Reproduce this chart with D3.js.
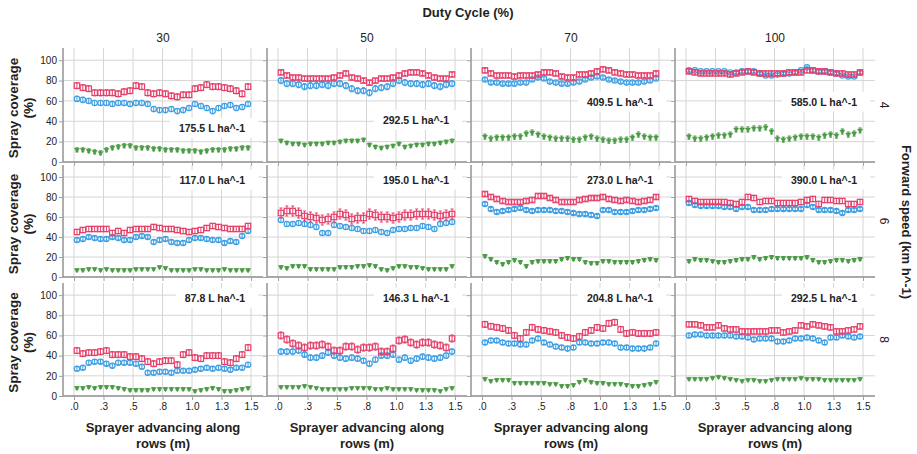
<!DOCTYPE html>
<html>
<head>
<meta charset="utf-8">
<script src="https://cdn.jsdelivr.net/npm/d3@7"></script>
<style>
  body { margin: 0; background: #fff; }
  text { font-family: Arial, "Liberation Sans", sans-serif; fill: #222; }
</style>
</head>
<body>
<script>
// facet categories
var dutyCycles = ["30", "50", "70", "100"];
var speeds = ["4", "6", "8"];
var rates = [
  ["175.5", "292.5", "409.5", "585.0"],
  ["117.0", "195.0", "273.0", "390.0"],
  ["87.8", "146.3", "204.8", "292.5"]
];
var xTickValues = [0, 0.25, 0.5, 0.75, 1.0, 1.25, 1.5];
var xTickLabels = [".0", ".3", ".5", ".8", "1.0", "1.3", "1.5"];
var yTickValues = [0, 20, 40, 60, 80, 100];

// sample positions along the row (m)
var xPos = [0.025, 0.075, 0.125, 0.175, 0.225, 0.275, 0.325, 0.375, 0.425, 0.475,
            0.525, 0.575, 0.625, 0.675, 0.725, 0.775, 0.825, 0.875, 0.925, 0.975,
            1.025, 1.075, 1.125, 1.175, 1.225, 1.275, 1.325, 1.375, 1.425, 1.475];

// speed 4
var s4d30Red   = [75,73,72,68,68,68,68,67,69,70,75,74,68,67,68,67,65,64,66,66,72,73,76,74,74,73,72,70,67,74];
var s4d30Blue  = [62,61,60,58,58,58,57,58,58,57,58,58,57,52,51,51,52,50,51,53,57,55,53,50,53,55,56,53,54,57];
var s4d30Green = [12,12,11,10,9,12,14,15,16,16,14,14,14,13,13,12,12,12,11,11,11,10,11,12,12,12,13,13,14,14];
var s4d50Red   = [88,85,83,83,82,82,82,82,82,83,85,87,83,82,80,78,80,82,82,83,85,87,88,88,87,85,83,82,82,86];
var s4d50Blue  = [80,77,77,76,74,75,75,76,75,77,77,75,72,70,70,68,72,73,74,77,80,78,77,77,76,77,75,74,76,77];
var s4d50Green = [21,19,18,18,17,18,18,18,19,19,20,21,21,21,22,17,15,14,15,16,18,15,16,17,17,18,18,19,20,21];
var s4d70Red   = [90,87,85,85,85,84,85,85,85,86,88,88,87,84,83,83,86,86,87,89,91,90,88,87,86,86,85,85,85,87];
var s4d70Blue  = [81,78,78,77,77,77,78,78,81,83,82,79,78,77,77,78,79,81,83,84,83,81,80,79,78,78,78,79,80,82];
var s4d70Green = [25,23,24,24,24,25,25,28,29,27,25,24,23,23,23,22,22,24,25,23,22,21,21,22,22,24,27,25,24,24];
var s4d100Red   = [89,88,87,87,87,87,87,86,87,88,89,88,87,87,87,87,87,88,88,88,90,90,89,89,88,87,87,86,86,88];
var s4d100Blue  = [90,90,89,89,89,89,89,88,88,89,89,89,87,85,85,86,87,87,88,90,93,90,89,89,88,87,85,84,84,88];
var s4d100Green = [25,23,23,24,25,26,26,27,32,32,32,33,33,34,30,23,22,23,24,25,25,25,24,26,27,26,30,27,28,31];

// speed 6
var s6d30Red   = [45,47,48,48,48,48,44,46,44,47,48,48,48,50,49,48,48,47,46,45,46,47,49,51,50,49,48,48,48,51];
var s6d30Blue  = [37,38,40,39,38,38,40,39,37,37,40,41,40,35,37,38,35,34,34,37,39,39,38,37,37,34,36,35,41,46];
var s6d30Green = [7,7,8,8,7,8,7,7,7,7,8,8,8,8,10,9,7,7,7,7,8,8,7,7,7,8,7,7,7,7];
var s6d50Red   = [64,66,66,64,61,60,59,57,58,60,63,62,58,59,59,63,62,60,60,59,60,62,62,63,63,63,62,61,62,63];
var s6d50Blue  = [57,53,53,54,53,52,50,44,44,52,51,50,49,48,46,46,47,45,44,47,48,48,49,49,51,50,48,53,54,55];
var s6d50Green = [10,9,11,11,11,8,8,8,8,8,10,10,10,11,11,12,11,8,7,9,11,11,10,10,9,8,8,8,8,11];
var s6d70Red   = [83,80,78,76,75,75,75,76,77,81,81,79,77,75,75,75,77,78,79,79,80,78,77,76,77,76,75,76,77,80];
var s6d70Blue  = [73,68,65,66,67,68,69,67,66,67,67,67,66,66,65,64,63,63,62,61,67,67,65,65,65,66,67,67,68,69];
var s6d70Green = [21,18,15,13,15,17,15,11,15,16,16,16,16,18,19,18,18,15,14,14,16,16,15,15,15,15,16,17,18,17];
var s6d100Red   = [78,76,75,75,75,75,75,74,73,75,80,79,75,76,76,74,74,74,74,75,77,78,73,77,77,76,76,73,73,75];
var s6d100Blue  = [74,72,71,71,71,71,70,70,68,70,70,67,67,67,68,68,68,68,68,68,72,70,67,67,67,66,64,67,67,68];
var s6d100Green = [16,18,17,17,16,15,15,16,17,18,18,20,18,19,20,19,19,19,19,19,20,17,15,15,16,17,17,16,17,18];

// speed 8
var s8d30Red   = [45,42,43,43,44,45,41,41,41,39,39,37,34,32,34,35,35,31,41,43,38,37,40,40,40,34,33,37,41,48];
var s8d30Blue  = [27,28,33,34,34,32,30,33,33,33,32,29,23,23,24,24,23,25,25,25,26,27,28,27,28,27,26,28,28,31];
var s8d30Green = [8,8,9,8,9,9,9,8,7,6,6,6,6,7,7,7,7,7,7,7,5,6,7,8,7,5,5,6,7,8];
var s8d50Red   = [60,56,52,50,48,50,50,51,49,45,45,49,49,46,48,48,49,44,44,47,55,56,53,51,53,53,51,50,48,57];
var s8d50Blue  = [44,44,44,45,41,38,38,40,43,40,38,37,38,37,35,32,36,40,40,41,36,38,35,37,39,38,37,38,40,44];
var s8d50Green = [9,9,9,9,10,9,8,7,7,7,7,7,8,8,8,8,7,7,8,7,7,7,7,6,6,6,6,5,7,8];
var s8d70Red   = [71,69,68,67,65,60,57,63,68,66,65,64,63,60,58,57,59,63,65,68,67,72,73,66,62,63,62,62,62,63];
var s8d70Blue  = [53,55,55,53,52,52,51,51,55,57,53,51,49,48,47,48,53,53,52,52,53,53,52,48,48,47,47,47,48,52];
var s8d70Green = [17,15,16,16,16,13,13,13,13,13,13,12,12,10,10,11,14,16,14,13,13,12,12,12,11,10,10,11,12,14];
var s8d100Red   = [71,71,70,68,68,70,67,66,66,64,64,64,64,64,65,65,63,64,65,70,69,71,70,69,68,64,64,65,66,69];
var s8d100Blue  = [60,61,61,60,60,60,60,60,59,59,58,56,57,57,57,54,54,55,57,57,58,57,55,53,58,58,60,59,58,59];
var s8d100Green = [17,17,17,17,18,19,18,17,16,15,16,16,15,15,16,17,17,17,17,18,17,17,17,16,16,16,16,16,16,17];

// error bar half widths (rows = speed, cols = duty cycle)
var errRed   = [[3, 2, 2, 2], [2.5, 5, 2, 2.5], [3, 3.5, 3, 2.5]];
var errBlue  = [[2.5, 3, 1.5, 1], [2, 2.5, 1.5, 1.5], [2, 2.5, 2, 2]];
var errGreen = [[2, 1.5, 2.5, 2.5], [1, 1.2, 1.5, 1.5], [1.2, 1, 1.2, 1]];

var redSeries = [
  [s4d30Red, s4d50Red, s4d70Red, s4d100Red],
  [s6d30Red, s6d50Red, s6d70Red, s6d100Red],
  [s8d30Red, s8d50Red, s8d70Red, s8d100Red]
];
var blueSeries = [
  [s4d30Blue, s4d50Blue, s4d70Blue, s4d100Blue],
  [s6d30Blue, s6d50Blue, s6d70Blue, s6d100Blue],
  [s8d30Blue, s8d50Blue, s8d70Blue, s8d100Blue]
];
var greenSeries = [
  [s4d30Green, s4d50Green, s4d70Green, s4d100Green],
  [s6d30Green, s6d50Green, s6d70Green, s6d100Green],
  [s8d30Green, s8d50Green, s8d70Green, s8d100Green]
];

// layout
var width = 917, height = 454;
var colLeft = [63, 267, 471, 675];
var panelW = 200;
var rowTop = [48, 165, 283];
var rowBottom = [162, 277, 396];
var labelLevel = [[33, 41, 59, 59], [97, 97, 97, 97], [97, 97, 97, 97]];

var red = "#e5406a", blue = "#3f9fe3", green = "#4b9a45";

var svg = d3.select("body").append("svg")
  .attr("width", width)
  .attr("height", height);

// top headers
svg.append("text")
  .attr("x", 468).attr("y", 17)
  .attr("text-anchor", "middle")
  .style("font-size", "13px").style("font-weight", "bold")
  .text("Duty Cycle (%)");

svg.append("text")
  .attr("transform", "translate(902,222) rotate(90)")
  .attr("text-anchor", "middle")
  .style("font-size", "13px").style("font-weight", "bold")
  .text("Forward speed (km h^-1)");

dutyCycles.forEach(function(dc, c) {
  svg.append("text")
    .attr("x", colLeft[c] + panelW / 2).attr("y", 42)
    .attr("text-anchor", "middle")
    .style("font-size", "12px")
    .text(dc);
});

speeds.forEach(function(sp, r) {
  var cy = (rowTop[r] + rowBottom[r]) / 2;
  svg.append("text")
    .attr("transform", "translate(880," + cy + ") rotate(90)")
    .attr("text-anchor", "middle")
    .style("font-size", "12px")
    .text(sp);

  var t = svg.append("text")
    .attr("transform", "translate(0," + (cy + 3) + ") rotate(-90)")
    .attr("text-anchor", "middle")
    .style("font-size", "13.5px").style("font-weight", "bold");
  t.append("tspan").attr("x", 0).attr("y", 18).text("Spray coverage");
  t.append("tspan").attr("x", 0).attr("y", 33).text("(%)");
});

function drawPanel(r, c) {
  var left = colLeft[c];
  var x = d3.scaleLinear().domain([0, 1.5]).range([left + 11, left + 188]);
  var y = d3.scaleLinear().domain([0, 112]).range([rowBottom[r], rowTop[r]]);
  var g = svg.append("g");

  // grid
  g.selectAll(".hg").data(yTickValues.slice(1)).enter().append("line")
    .attr("x1", left).attr("x2", left + panelW)
    .attr("y1", function(d) { return y(d); }).attr("y2", function(d) { return y(d); })
    .attr("stroke", "#d6d6d6").attr("stroke-width", 1);
  g.selectAll(".vg").data(xTickValues).enter().append("line")
    .attr("x1", function(d) { return x(d); }).attr("x2", function(d) { return x(d); })
    .attr("y1", rowTop[r]).attr("y2", rowBottom[r])
    .attr("stroke", "#d6d6d6").attr("stroke-width", 1);

  // rate label with white box (drawn over the grid)
  var lab = g.append("text")
    .attr("x", left + 182).attr("y", y(labelLevel[r][c]))
    .attr("dy", "0.35em")
    .attr("text-anchor", "end")
    .style("font-size", "10.5px").style("font-weight", "bold")
    .text(rates[r][c] + " L ha^-1");
  var bb = lab.node().getBBox();
  g.insert("rect", function() { return lab.node(); })
    .attr("x", bb.x - 9).attr("y", bb.y - 4)
    .attr("width", bb.width + 22).attr("height", bb.height + 8)
    .attr("fill", "#fff");

  // axes
  var yAxis = d3.axisLeft(y).tickValues(yTickValues).tickSize(4)
    .tickFormat(c === 0 ? d3.format("d") : "");
  var ya = g.append("g").attr("transform", "translate(" + left + ",0)").call(yAxis);
  ya.select(".domain").attr("d", "M0," + rowTop[r] + "V" + rowBottom[r])
    .attr("stroke", "#8c8c8c").attr("stroke-width", 1.4);
  ya.selectAll(".tick line").attr("stroke", "#a0a0a0");
  ya.selectAll(".tick text").style("font-size", "10px").attr("fill", "#333").attr("x", -6);

  var xAxis = d3.axisBottom(x).tickValues(xTickValues).tickSize(4)
    .tickFormat(function(d, i) { return r === 2 ? xTickLabels[i] : ""; });
  var xa = g.append("g").attr("transform", "translate(0," + rowBottom[r] + ")").call(xAxis);
  xa.select(".domain").attr("d", "M" + left + ",0H" + (left + panelW))
    .attr("stroke", "#8c8c8c").attr("stroke-width", 1.4);
  xa.selectAll(".tick line").attr("stroke", "#a0a0a0");
  xa.selectAll(".tick text").style("font-size", "10px").attr("fill", "#333").attr("y", 7);

  function series(values, err, color, shape) {
    var pts = values.map(function(v, i) { return { x: xPos[i], v: v }; });
    var sg = g.append("g");
    sg.selectAll(".eb").data(pts).enter().append("path")
      .attr("d", function(d) {
        var px = x(d.x), y1 = y(d.v - err), y2 = y(d.v + err);
        return "M" + px + "," + y1 + "V" + y2 +
               "M" + (px - 1.5) + "," + y1 + "H" + (px + 1.5) +
               "M" + (px - 1.5) + "," + y2 + "H" + (px + 1.5);
      })
      .attr("stroke", color).attr("stroke-width", 1).attr("fill", "none");
    if (shape === "square") {
      sg.selectAll(".m").data(pts).enter().append("rect")
        .attr("x", function(d) { return x(d.x) - 2.7; })
        .attr("y", function(d) { return y(d.v) - 2.7; })
        .attr("width", 5.4).attr("height", 5.4)
        .attr("fill", "none").attr("stroke", color).attr("stroke-width", 1.2);
    } else if (shape === "circle") {
      sg.selectAll(".m").data(pts).enter().append("circle")
        .attr("cx", function(d) { return x(d.x); })
        .attr("cy", function(d) { return y(d.v); })
        .attr("r", 2.7)
        .attr("fill", "none").attr("stroke", color).attr("stroke-width", 1.2);
    } else {
      var tri = d3.symbol().type(d3.symbolTriangle).size(11);
      sg.selectAll(".m").data(pts).enter().append("path")
        .attr("d", tri)
        .attr("transform", function(d) { return "translate(" + x(d.x) + "," + y(d.v) + ") rotate(180)"; })
        .attr("fill", color).attr("stroke", color).attr("stroke-width", 0.5);
    }
  }

  series(greenSeries[r][c], errGreen[r][c], green, "triangle");
  series(blueSeries[r][c], errBlue[r][c], blue, "circle");
  series(redSeries[r][c], errRed[r][c], red, "square");
}

for (var r = 0; r < 3; r++) {
  for (var c = 0; c < 4; c++) {
    drawPanel(r, c);
  }
}

// x titles
colLeft.forEach(function(left) {
  var t = svg.append("text")
    .attr("text-anchor", "middle")
    .style("font-size", "13px").style("font-weight", "bold");
  t.append("tspan").attr("x", left + panelW / 2).attr("y", 432).text("Sprayer advancing along");
  t.append("tspan").attr("x", left + panelW / 2).attr("y", 448).text("rows  (m)");
});
</script>
</body>
</html>
